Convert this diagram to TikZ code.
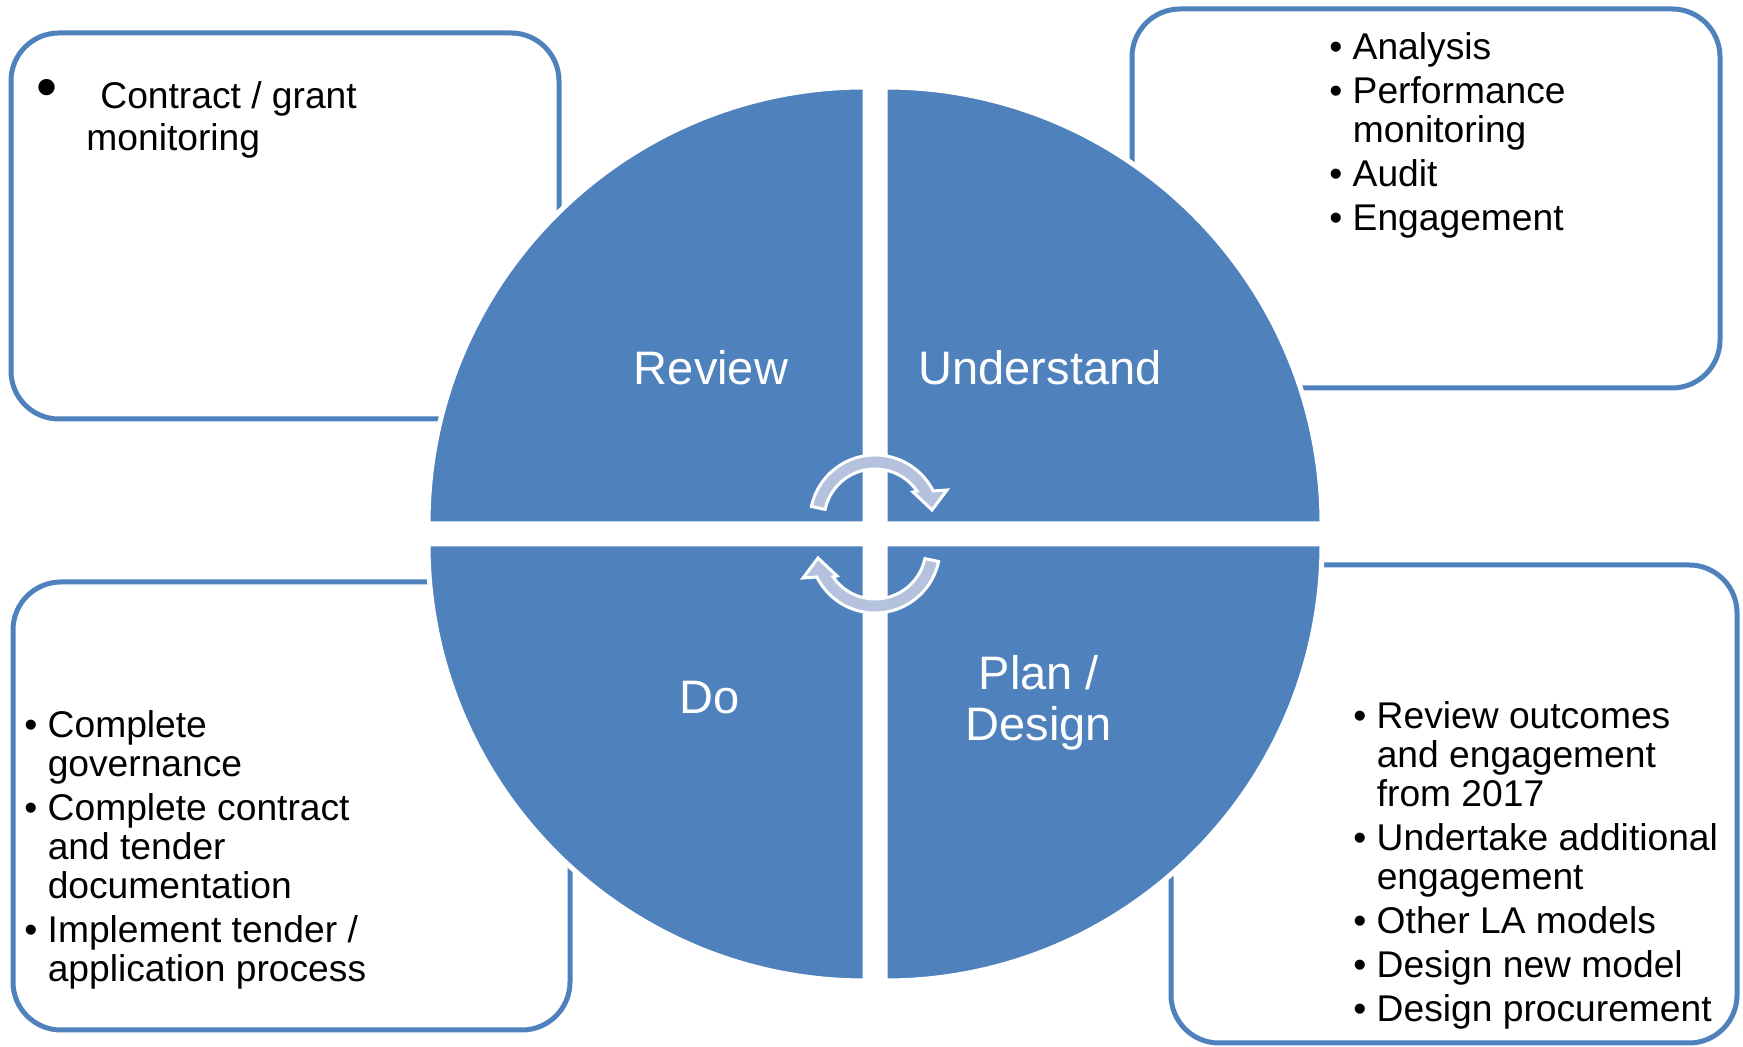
\documentclass[tikz,border=0pt]{standalone}
\usepackage{fontspec}
\setmainfont{Liberation Sans}
\definecolor{cycblue}{RGB}{79,129,189}
\definecolor{arrowfill}{RGB}{180,194,222}
\newcommand{\bul}{\textbullet\ }
\newcommand{\ind}{\phantom{\textbullet\ }}
\newcommand{\cyclearrow}{\draw[fill=arrowfill,draw=white,line width=1.5pt,line join=miter] (168:65) arc[start angle=168,end angle=26.5,radius=65] -- (72,30) -- (57,10) -- (38,28) -- (34.6:51) arc[start angle=34.6,end angle=168,radius=51] -- cycle;}
\begin{document}
\begin{tikzpicture}[x=0.5pt,y=0.5pt,line join=round,
  box/.style={draw=cycblue,line width=2.5pt,rounded corners=24pt},
  quad/.style={fill=cycblue,draw=white,line width=2.5pt},
  phase/.style={text=white,font=\fontsize{23.5pt}{25.5pt}\selectfont,align=center,inner sep=0pt},
  notes/.style={anchor=north west,align=left,inner sep=0pt,font=\fontsize{18.6pt}{19.5pt}\selectfont}]
\useasboundingbox (0,0) rectangle (1743,1047);
% note boxes behind the circle
\draw[box] (11,628) rectangle (559,1014);
\draw[box] (1132,659) rectangle (1720,1038);
\draw[box] (13,17) rectangle (570,465);
\draw[box] (1171,4) rectangle (1737,482);
% four quadrants
\draw[quad] (865,523) -- (428,523) arc[start angle=180,end angle=90,radius=437] -- cycle;
\draw[quad] (885,523) -- (885,960) arc[start angle=90,end angle=0,radius=437] -- cycle;
\draw[quad] (865,503) -- (865,66) arc[start angle=270,end angle=180,radius=437] -- cycle;
\draw[quad] (885,503) -- (1322,503) arc[start angle=0,end angle=-90,radius=437] -- cycle;
\node[phase] (review) at (711,679) {Review};
\node[phase] (understand) at (1040,679) {Understand};
\node[phase] (do) at (710,349) {Do};
\node[phase] (plan) at (1039,344.5) {Plan /\\Design};
% cycle arrows
\begin{scope}[shift={(875,527)}] \cyclearrow \end{scope}
\begin{scope}[shift={(875,499)},rotate=180] \cyclearrow \end{scope}
% notes
\node[font=\fontsize{30pt}{30pt}\selectfont,inner sep=0pt] (tlbullet) at (47,953) {\textbullet};
\node[notes,font=\fontsize{18.6pt}{21pt}\selectfont] (tlnote) at (86,966) {\hspace*{7pt}Contract / grant\\monitoring};
\node[notes] (trnote) at (1329,1015) {\bul Analysis\\[2.5pt]\bul Performance\\\ind monitoring\\[2.5pt]\bul Audit\\[2.5pt]\bul Engagement};
\node[notes] (blnote) at (24,337) {\bul Complete\\\ind governance\\[2.5pt]\bul Complete contract\\\ind and tender\\\ind documentation\\[2.5pt]\bul Implement tender /\\\ind application process};
\node[notes] (brnote) at (1353,346) {\bul Review outcomes\\\ind and engagement\\\ind from 2017\\[2.5pt]\bul Undertake additional\\\ind engagement\\[2.5pt]\bul Other LA models\\[2.5pt]\bul Design new model\\[2.5pt]\bul Design procurement};
\end{tikzpicture}
\end{document}
